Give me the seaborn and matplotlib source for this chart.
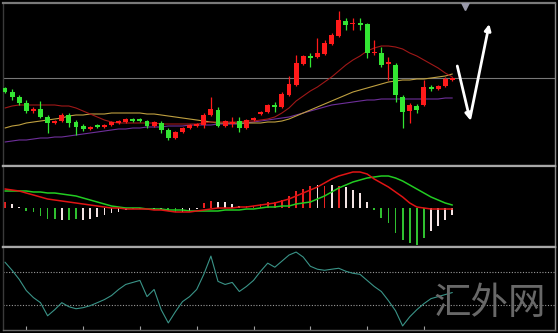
import numpy as np
import pandas as pd
import matplotlib
matplotlib.use("Agg")
import matplotlib.pyplot as plt
import seaborn as sns

# ---------------- data ----------------
opens  = [82,78,73,67,59,61,53,47,49,55,48,44,41,45,43,45,47,48,51,51,49,44,47,40,32,38,42,44,45,55,
          60,44,46,49,42,50,56,58,65,63,75,85,106,114,113,116,126,134,149,146,147,146,117,117,106,105,73,59,64,65,
          83,81,84,90]
highs  = [83,81,75,70,63,69,55,50,57,57,50,46,44,46,46,49,50,52,52,52,50,49,49,42,39,43,46,47,57,73,
          63,50,53,53,51,53,59,66,68,78,94,115,115,117,132,130,137,159,152,152,152,147,130,123,113,107,75,67,66,90,
          85,85,93,93]
lows   = [77,70,65,57,57,52,37,46,48,43,35,39,40,42,42,44,46,47,48,48,42,43,37,30,31,37,41,43,42,54,
          43,43,43,38,41,49,55,57,58,62,74,84,105,103,112,115,125,133,140,140,140,112,115,103,90,68,42,47,57,64,
          79,80,83,89]
closes = [78,73,67,59,61,53,47,49,55,47,43,41,43,43,45,48,49,51,49,49,44,48,40,32,38,42,45,46,55,61,
          44,49,48,42,50,52,58,65,63,76,86,107,114,112,117,127,135,150,145,147,145,117,118,105,108,75,58,65,60,83,
          81,84,91,92]

ma_red    = [62,64,65,65,65,65,65,65,64,64,62,59,56,53,50,48,47,47,47,47,47,47,46,46,46,46,46,46,47,48,
             48,48,48,48,49,49,50,51,53,57,62,69,74,79,83,88,93,99,105,110,114,119,122,124,124,123,121,117,114,110,
             106,102,97,93]
ma_yellow = [42,44,45,47,48,49,50,51,52,54,55,55,56,56,56,57,57,57,57,57,56,56,55,54,53,52,51,50,49,48,
             47,47,47,47,47,47,47,48,48,49,51,54,57,60,63,66,69,72,75,78,80,82,84,86,88,89,90,90,91,91,
             92,93,94,96]
ma_purple = [28,29,30,30,31,32,32,33,33,34,35,36,37,38,39,40,41,41,42,42,43,43,43,44,44,44,45,45,45,45,
             46,46,46,46,47,48,49,50,51,52,53,55,57,59,61,63,65,66,67,68,69,70,70,71,71,71,71,71,71,71,
             71,71,72,72]

macd_line   = [19,18,17,15,13,11,9,8,7,6,5,4,3,2,1,0,0,-1,-1,-1,-1,-2,-2,-3,-4,-4,-4,-3,-2,-1,
               0,0,0,1,1,2,3,4,5,7,9,12,15,18,21,25,29,32,34,36,36,34,29,25,21,16,11,5,1,0,
               -1,-1,-1,-1]
signal_line = [17,17,17,17,16,16,15,15,14,13,12,10,8,6,4,2,1,0,0,0,-1,-1,-1,-2,-2,-2,-3,-3,-3,-3,
               -3,-2,-2,-2,-1,-1,0,1,1,2,2,4,5,6,9,12,16,20,23,26,28,30,31,32,32,30,27,23,19,15,
               11,8,5,3]
macd_hist   = [5.7,4,1.5,-2.5,-4.3,-8.3,-11,-11,-12.3,-11.7,-11,-11.7,-11,-9,-7.3,-5,-4,-1.7,-0.8,-0.5,
               -0.3,-0.5,-1,-3.3,-4,-4,-2.7,-1,5,6.7,5.7,5.7,4,1.7,2,2.3,4,5.7,6.3,8.3,
               11.7,16.7,19,22.3,23.3,22.3,23.3,22.3,21,18.3,15,5.7,-1.7,-10,-15,-25,-32.3,-35,-36.7,-30,
               -23.3,-18.3,-11.7,-6.7]
hist_kind   = list("rwwggggg" "wggwwwww" "wwwwwwwg" "gwwwrrww" "wwrrrrrr" "rrrrwrwr" "wwwwgggg" "ggggwwww")

rsi = [82.5,72.5,61.3,47.5,38.8,32.5,16.3,23.8,32.5,27.5,25,26.3,28.8,32.5,36.3,41.3,48.8,55,57.5,60,
       40,48.8,23.8,7.5,21.3,33.8,40,48.8,67.5,90,58.8,55,57.5,46.3,52.5,60,71.3,81.3,76.3,83.8,
       91.3,95,88.8,77.5,73.8,72.5,73.8,75,71.3,68.8,67.5,60,52.5,46.3,35,22.5,3.8,15,23.8,31.3,
       37.5,40,42.5,45]
rsi_levels = [70, 30]

arrow_down = [(63.7, 104), (65.5, 50)]
arrow_up   = [(65.5, 52), (68.2, 146)]
marker_pt  = (64.8, 164)
x_ticks    = [3, 11, 19, 27, 35, 43, 51, 59]
watermark  = "汇外网"

# ---------------- style ----------------
sns.set_theme(style="dark", rc={"axes.facecolor": "black", "figure.facecolor": "black",
                                "axes.edgecolor": "#888888", "axes.grid": False})
plt.rcParams['font.family'] = ['Noto Sans CJK SC', 'DejaVu Sans']

RED = "#FF1A1A"
GREEN = "#33E633"
HIST_C = {"r": "#E82020", "w": "#F4E4E4", "g": "#2FC02F"}

n = len(closes)
idx = np.arange(n)
df = pd.DataFrame({"i": idx, "open": opens, "high": highs, "low": lows, "close": closes,
                   "ma_red": ma_red, "ma_yellow": ma_yellow, "ma_purple": ma_purple,
                   "macd": macd_line, "signal": signal_line, "hist": macd_hist, "rsi": rsi})

fig = plt.figure(figsize=(5.58, 3.33), dpi=100)
L, W = 3 / 558, 552 / 558
ax1 = fig.add_axes([L, 1 - 166 / 333, W, 163 / 333])
ax2 = fig.add_axes([L, 1 - 247 / 333, W, 81 / 333])
ax3 = fig.add_axes([L, 1 - 330 / 333, W, 83 / 333])

XL = (-0.28, 77.46)

# ---- main price panel ----
o = df["open"].to_numpy(); c = df["close"].to_numpy()
cols = np.where(c >= o, RED, GREEN)
ax1.vlines(idx, df["low"], df["high"], colors=cols, lw=0.9, zorder=3)
ax1.bar(idx, np.maximum(np.abs(c - o), 0.8), bottom=np.minimum(o, c), width=0.7,
        color=cols, linewidth=0, zorder=4)
sns.lineplot(data=df, x="i", y="ma_purple", ax=ax1, color="#6E2F9A", lw=0.8, legend=False, zorder=2)
sns.lineplot(data=df, x="i", y="ma_yellow", ax=ax1, color="#BFA040", lw=0.8, legend=False, zorder=2)
sns.lineplot(data=df, x="i", y="ma_red", ax=ax1, color="#A01818", lw=0.8, legend=False, zorder=2)
ax1.axhline(closes[-1], color="#787878", lw=0.8, zorder=1)
for (x0, y0), (x1, y1) in (arrow_down, arrow_up):
    ax1.annotate("", xy=(x1, y1), xytext=(x0, y0),
                 arrowprops=dict(arrowstyle="-|>", color="white", lw=2, mutation_scale=9,
                                 shrinkA=0, shrinkB=0), zorder=6)
ax1.plot([marker_pt[0]], [marker_pt[1]], marker="v", ms=6, color="#9A9AAA", zorder=6)
ax1.set_ylim(4, 167)

# ---- MACD panel ----
ax2.bar(idx, df["hist"], width=0.25, color=[HIST_C[k] for k in hist_kind], linewidth=0, zorder=2)
sns.lineplot(data=df, x="i", y="signal", ax=ax2, color="#22CC22", lw=1.1, legend=False, zorder=3)
sns.lineplot(data=df, x="i", y="macd", ax=ax2, color="#E01414", lw=1.1, legend=False, zorder=3)
ax2.set_ylim(-39, 42)

# ---- RSI panel ----
for lv in rsi_levels:
    ax3.axhline(lv, color="#9A9A9A", lw=0.8, ls=(0, (1, 1.5)), zorder=1)
sns.lineplot(data=df, x="i", y="rsi", ax=ax3, color="#3A9488", lw=0.8, legend=False, zorder=3)
ax3.set_ylim(-1.25, 101.25)

for ax in (ax1, ax2, ax3):
    ax.set_xlim(*XL)
    ax.set_xlabel(""); ax.set_ylabel("")
    ax.set_yticks([])
    ax.set_xticks([])
    ax.set_facecolor("black")
    for s in ax.spines.values():
        s.set_color("#A8A8A8"); s.set_linewidth(1.6)
    ax.spines["left"].set_color("#3A3A3A"); ax.spines["left"].set_linewidth(1)
    ax.spines["right"].set_color("#8A8A8A"); ax.spines["right"].set_linewidth(1)
ax1.spines["top"].set_color("#7A7A7A")
ax3.spines["bottom"].set_color("#6A6A6A"); ax3.spines["bottom"].set_linewidth(1)
ax3.set_xticks(x_ticks)
ax3.tick_params(axis="x", direction="in", length=3, width=0.8, color="#A0A0A0",
                labelbottom=False, bottom=True)

fig.text(0.878, 0.088, watermark, fontsize=27, color="#686868", ha="center", va="center",
         family=["Noto Sans CJK SC"], fontweight=300, zorder=10)

fig.savefig("out.png", dpi=100, facecolor="black")
